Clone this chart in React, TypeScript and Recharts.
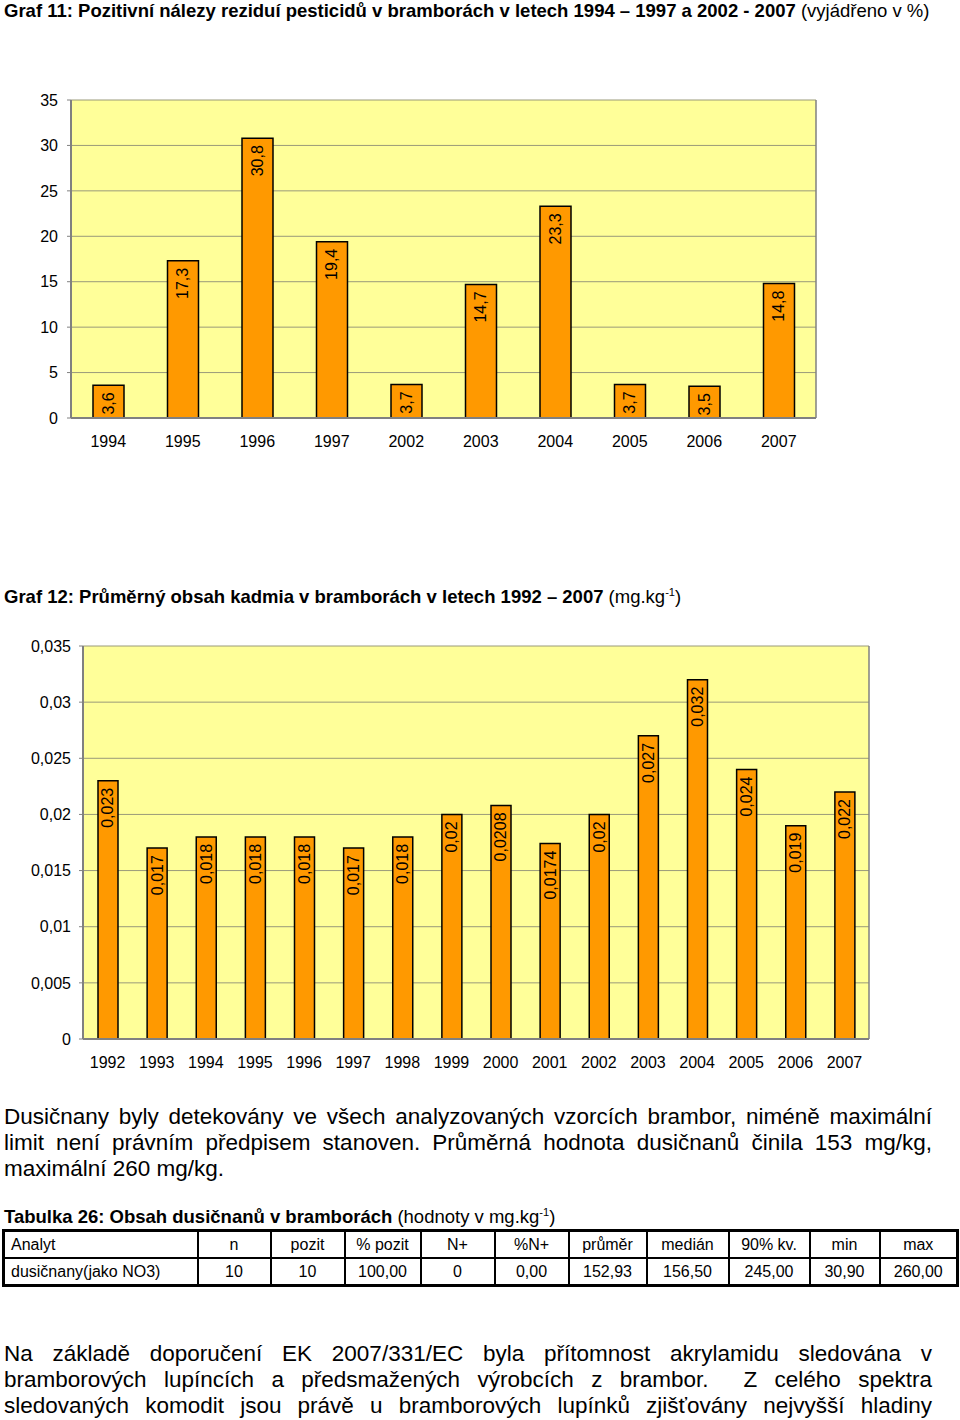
import * as React from 'react';
import { Bar, BarChart, CartesianGrid, LabelList, XAxis, YAxis } from 'recharts';

// Graf 11 - positive findings, %
const pestYears = ['1994', '1995', '1996', '1997', '2002', '2003', '2004', '2005', '2006', '2007'];
const pestValues = [3.6, 17.3, 30.8, 19.4, 3.7, 14.7, 23.3, 3.7, 3.5, 14.8];
const pestTicks = [0, 5, 10, 15, 20, 25, 30, 35];

// Graf 12 - cadmium, mg/kg
const cdYears = [
  '1992', '1993', '1994', '1995', '1996', '1997', '1998', '1999',
  '2000', '2001', '2002', '2003', '2004', '2005', '2006', '2007',
];
const cdValues = [
  0.023, 0.017, 0.018, 0.018, 0.018, 0.017, 0.018, 0.02,
  0.0208, 0.0174, 0.02, 0.027, 0.032, 0.024, 0.019, 0.022,
];
const cdTicks = [0, 0.005, 0.01, 0.015, 0.02, 0.025, 0.03, 0.035];

// Tabulka 26
const tableHead = ['Analyt', 'n', 'pozit', '% pozit', 'N+', '%N+', 'průměr', 'medián', '90% kv.', 'min', 'max'];
const tableRow = ['dusičnany(jako NO3)', '10', '10', '100,00', '0', '0,00', '152,93', '156,50', '245,00', '30,90', '260,00'];
const colWidths = [194, 73, 74, 76, 74, 74, 78, 82, 81, 70, 78];

// text lines as laid out in the source document
const nitrateLines = [
  'Dusičnany byly detekovány ve všech analyzovaných vzorcích brambor, niméně maximální',
  'limit není právním předpisem stanoven. Průměrná hodnota dusičnanů činila 153 mg/kg,',
  'maximální 260 mg/kg.',
];
const acrylLines = [
  'Na základě doporučení EK 2007/331/EC byla přítomnost akrylamidu sledována v',
  'bramborových lupíncích a předsmažených výrobcích z brambor.  Z celého spektra',
  'sledovaných komodit jsou právě u bramborových lupínků zjišťovány nejvyšší hladiny',
];

const FONT = '"Liberation Sans", Arial, Helvetica, sans-serif';
const ORANGE = '#FF9900';
const PLOT_BG = '#FFFF99';
const GRID = '#9a9a7a';
const AXIS = '#808080';

const comma = (v: number | string) => String(v).replace('.', ',');

const VerticalLabel = (props: any) => {
  const { x, y, width, value } = props;
  const cx = Number(x) + Number(width) / 2;
  const ty = Number(y) + 7;
  return (
    <text
      x={cx}
      y={ty}
      transform={`rotate(-90 ${cx} ${ty})`}
      textAnchor="end"
      dominantBaseline="central"
      fontSize={16}
      fontFamily={FONT}
      fill="#000"
    >
      {comma(value)}
    </text>
  );
};

const tickStyle = { fill: '#000', fontSize: 16, fontFamily: FONT };

function YearChart({
  years,
  values,
  ticks,
  width,
  height,
  margin,
  yWidth,
  barSize,
  yMargin,
}: {
  years: string[];
  values: number[];
  ticks: number[];
  width: number;
  height: number;
  margin: { top: number; right: number; left: number; bottom: number };
  yWidth: number;
  barSize: number;
  yMargin: number;
}) {
  const data = years.map((year, i) => ({ year, value: values[i] }));
  const edges = years.map((_, i) => i).concat(years.length);
  return (
    <BarChart width={width} height={height} data={data} margin={margin}>
      <CartesianGrid vertical={false} fill={PLOT_BG} stroke={GRID} strokeWidth={1} />
      <XAxis
        xAxisId="edges"
        type="number"
        domain={[0, years.length]}
        ticks={edges}
        tick={false}
        height={0}
        axisLine={false}
        tickLine={{ stroke: AXIS }}
        tickSize={4}
        allowDataOverflow
      />
      <XAxis
        dataKey="year"
        interval={0}
        height={40}
        tick={tickStyle}
        tickLine={false}
        tickSize={4}
        tickMargin={14}
        axisLine={{ stroke: AXIS, strokeWidth: 2 }}
      />
      <YAxis
        domain={[ticks[0], ticks[ticks.length - 1]]}
        ticks={ticks}
        interval={0}
        width={yWidth}
        tick={tickStyle}
        tickFormatter={comma}
        tickSize={4}
        tickMargin={yMargin}
        tickLine={{ stroke: AXIS }}
        axisLine={{ stroke: AXIS, strokeWidth: 2 }}
      />
      <YAxis
        yAxisId="right"
        orientation="right"
        width={1}
        tick={false}
        tickLine={false}
        axisLine={{ stroke: AXIS, strokeWidth: 1.5 }}
      />
      <Bar
        dataKey="value"
        fill={ORANGE}
        stroke="#000"
        strokeWidth={1.5}
        barSize={barSize}
        isAnimationActive={false}
      >
        <LabelList dataKey="value" content={VerticalLabel} />
      </Bar>
    </BarChart>
  );
}

const sup = (s: string) => (
  <sup style={{ fontSize: '0.6em', verticalAlign: 'super', lineHeight: 0 }}>{s}</sup>
);

function Justified({ lines, top, last }: { lines: string[]; top: number; last: boolean }) {
  return (
    <div style={{ position: 'absolute', top, left: 4, width: 928, fontSize: 22.5, lineHeight: '26px' }}>
      {lines.map((l, i) => {
        const full = i < lines.length - 1 || last;
        return (
          <div
            key={i}
            style={{
              whiteSpace: 'pre',
              textAlign: full ? 'justify' : 'left',
              textAlignLast: full ? 'justify' : 'left',
            }}
          >
            {l}
          </div>
        );
      })}
    </div>
  );
}

export default function App() {
  const abs = (top: number, left: number, extra: React.CSSProperties = {}): React.CSSProperties => ({
    position: 'absolute',
    top,
    left,
    ...extra,
  });
  const cellBase: React.CSSProperties = {
    border: '1px solid #000',
    borderLeft: '2px solid #000',
    padding: '0 6px',
    height: 25,
    lineHeight: '20px',
    fontSize: 16,
    textAlign: 'center',
    whiteSpace: 'nowrap',
  };
  return (
    <div
      style={{
        position: 'absolute',
        top: 0,
        left: 0,
        width: 960,
        height: 1420,
        background: '#fff',
        fontFamily: FONT,
        color: '#000',
        overflow: 'hidden',
      }}
    >
      <div style={abs(0, 4, { fontSize: 18.5, lineHeight: '22px', whiteSpace: 'nowrap' })}>
        <b>Graf 11: Pozitivní nálezy reziduí pesticidů v bramborách v letech 1994 – 1997 a 2002 - 2007</b>{' '}
        (vyjádřeno v %)
      </div>

      <div style={abs(0, 0)}>
        <YearChart
          years={pestYears}
          values={pestValues}
          ticks={pestTicks}
          width={960}
          height={470}
          margin={{ top: 100, right: 143, left: 11, bottom: 12 }}
          yWidth={60}
          barSize={31}
          yMargin={9}
        />
      </div>

      <div style={abs(586, 4, { fontSize: 18.5, lineHeight: '22px', whiteSpace: 'nowrap' })}>
        <b>Graf 12: Průměrný obsah kadmia v bramborách v letech 1992 – 2007</b> (mg.kg{sup('-1')})
      </div>

      <div style={abs(600, 0)}>
        <YearChart
          years={cdYears}
          values={cdValues}
          ticks={cdTicks}
          width={960}
          height={490}
          margin={{ top: 46, right: 90, left: 13, bottom: 11 }}
          yWidth={70}
          barSize={20}
          yMargin={8}
        />
      </div>

      <Justified lines={nitrateLines} top={1104} last={false} />

      <div style={abs(1205, 4, { fontSize: 18.5, lineHeight: '24px', whiteSpace: 'nowrap' })}>
        <b>Tabulka 26: Obsah dusičnanů v bramborách</b> (hodnoty v mg.kg{sup('-1')})
      </div>

      <table
        style={{
          position: 'absolute',
          top: 1229,
          left: 2,
          width: 956,
          borderCollapse: 'collapse',
          border: '3px solid #000',
          tableLayout: 'fixed',
          fontFamily: FONT,
        }}
      >
        <colgroup>
          {colWidths.map((w, i) => (
            <col key={i} style={{ width: w }} />
          ))}
        </colgroup>
        <tbody>
          {[tableHead, tableRow].map((row, r) => (
            <tr key={r}>
              {row.map((c, i) => (
                <td
                  key={i}
                  style={{
                    ...cellBase,
                    textAlign: i === 0 ? 'left' : 'center',
                    borderBottom: r === 0 ? '2px solid #000' : undefined,
                  }}
                >
                  {c}
                </td>
              ))}
            </tr>
          ))}
        </tbody>
      </table>

      <Justified lines={acrylLines} top={1341} last={true} />
    </div>
  );
}
